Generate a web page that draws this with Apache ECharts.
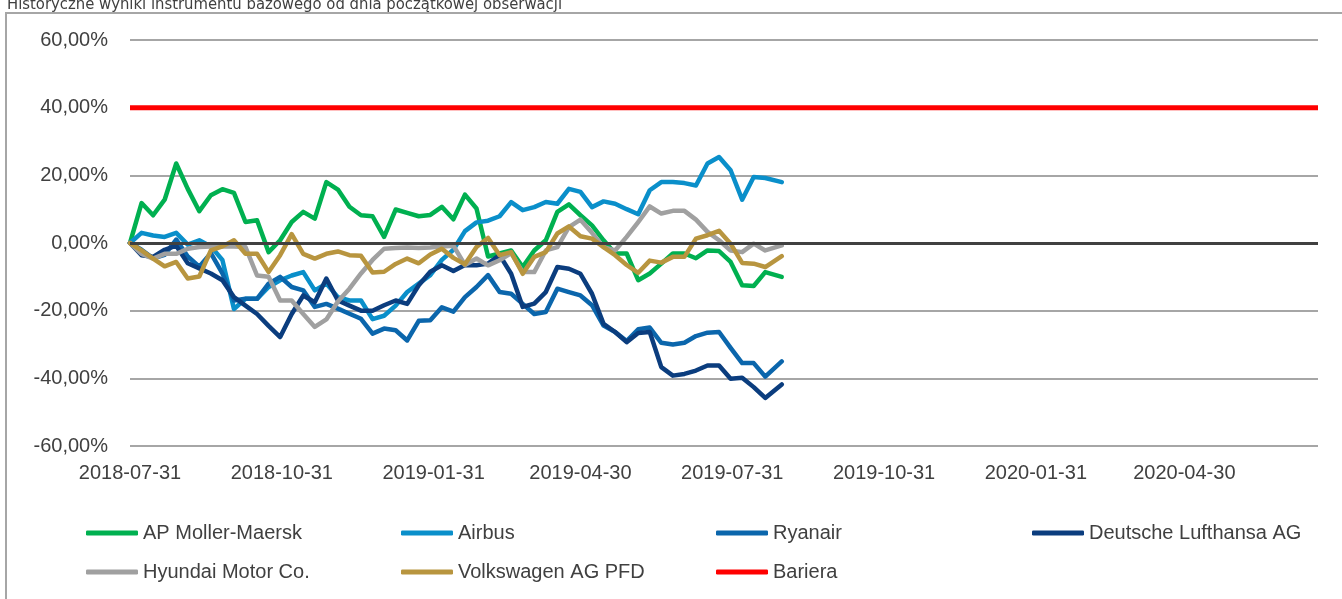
<!DOCTYPE html>
<html>
<head>
<meta charset="utf-8">
<script src="https://cdn.jsdelivr.net/npm/echarts@6/dist/echarts.min.js"></script>
<style>
  html, body { margin: 0; padding: 0; background: #fff; }
  #chart { width: 1342px; height: 599px; }
</style>
</head>
<body>
<div id="chart"></div>
<script>
// weekly observations (percent change from the initial observation)
var dates = [
  '2018-07-31', '2018-08-07', '2018-08-14', '2018-08-21', '2018-08-28', '2018-09-04', '2018-09-11', '2018-09-18',
  '2018-09-25', '2018-10-02', '2018-10-09', '2018-10-16', '2018-10-23', '2018-10-30', '2018-11-06', '2018-11-13',
  '2018-11-20', '2018-11-27', '2018-12-04', '2018-12-11', '2018-12-18', '2018-12-25', '2019-01-01', '2019-01-08',
  '2019-01-15', '2019-01-22', '2019-01-29', '2019-02-05', '2019-02-12', '2019-02-19', '2019-02-26', '2019-03-05',
  '2019-03-12', '2019-03-19', '2019-03-26', '2019-04-02', '2019-04-09', '2019-04-16', '2019-04-23', '2019-04-30',
  '2019-05-07', '2019-05-14', '2019-05-21', '2019-05-28', '2019-06-04', '2019-06-11', '2019-06-18', '2019-06-25',
  '2019-07-02', '2019-07-09', '2019-07-16', '2019-07-23', '2019-07-30', '2019-08-06', '2019-08-13', '2019-08-20',
  '2019-08-30'
];

var maersk = [0, 11.8, 8.2, 12.8, 23.5, 16, 9.4, 14.1, 15.9, 14.8, 6.2, 6.7, -2.7, 0.8, 6.2, 9.2, 7.2, 18, 15.8, 10.7,
  8.2, 7.9, 1.8, 9.9, 8.9, 7.9, 8.3, 10.7, 7.0, 14.3, 10.2, -4, -3.1, -2.2, -7.1, -2.2, 0.8, 9.2, 11.4, 8.2,
  5.2, 0.8, -3.1, -3.1, -11, -9, -6.1, -3.1, -3.1, -4.5, -2.2, -2.4, -5.6, -12.5, -12.7, -8.6, -10];

var airbus = [0, 3, 2.2, 1.8, 3, -0.5, 0.8, -1, -5, -19.5, -16.5, -16.5, -13, -11, -9.6, -8.6, -14, -12, -16, -17,
  -17, -22.5, -21.5, -18.5, -14.5, -12, -9.5, -5, -2, 3.5, 6.1, 6.6, 7.9, 12.1, 9.7, 10.6, 12.1, 11.6, 16, 15.1,
  10.6, 12.3, 11.6, 10, 8.5, 15.6, 18, 18, 17.7, 17, 23.5, 25.4, 21.5, 12.8, 19.5, 19.2, 18];

var ryanair = [0, -2, -4.5, -3.5, 1, -4, -7, -3, -9, -17, -16.5, -16.5, -12, -10, -13, -14, -18.9, -18, -19.4, -20.9,
  -22.4, -26.8, -25.3, -25.8, -28.8, -23, -22.8, -19, -20.3, -16, -13, -9.5, -14.5, -15, -18, -21, -20.4, -13.5, -14.5, -15.5,
  -18.4, -24.4, -26.3, -29, -25.5, -25, -29.5, -30, -29.5, -27.5, -26.5, -26.3, -31, -35.5, -35.5, -39.5, -35];

var lufthansa = [0, -3.6, -4.1, -2, -0.8, -6, -7.5, -9, -11, -16, -18.5, -21, -24.5, -27.8, -21, -15.5, -17.5, -10.5, -17, -18.5,
  -20, -20, -18.4, -17, -18, -12.5, -8.5, -6.6, -8.3, -6.5, -6.6, -6.1, -3.6, -9.1, -18.9, -17.9, -14.5, -7.1, -7.6, -9.1,
  -15, -23.9, -26.3, -29.3, -26.6, -26.3, -36.7, -39.2, -38.7, -37.7, -36.2, -36.2, -40.1, -39.8, -42.6, -45.8, -41.8];

var hyundai = [0, -3.2, -4.6, -3.2, -3.2, -1.7, -1.2, -1, -1, -1, -1.2, -9.6, -10, -17, -17, -21, -24.8, -22.6, -17.3, -13.5,
  -9, -5, -1.7, -1.5, -1.3, -1.5, -1.3, -1, -0.8, -6.5, -4.6, -6.6, -5.1, -3, -8.6, -8.6, -2.2, -1.2, 4.7, 6.9,
  3, -1.2, -2.2, 1.8, 6.2, 10.8, 8.7, 9.5, 9.5, 6.9, 3.3, 0.8, -2.2, -2.7, -0.2, -2.2, -0.7];

var volkswagen = [0, -2.2, -4.6, -6.9, -5.6, -10.5, -9.9, -2.2, -1, 0.8, -3.2, -3.2, -8.6, -3.6, 2.6, -3.2, -4.6, -3.2, -2.5, -3.6,
  -3.8, -8.7, -8.5, -6.2, -4.6, -6, -3.4, -1.7, -4.4, -6.3, -1.2, 1.5, -3.6, -2.7, -9.1, -4.1, -2.7, 2.8, 4.9, 2.0,
  1.3, -1.2, -3.6, -6.5, -8.8, -5.2, -5.8, -4.1, -4.1, 1.3, 2.3, 3.6, -0.2, -5.9, -6.1, -7.1, -3.9];

var bariera = 40;
var axisStart = '2018-07-31';
var axisEnd = '2020-07-20';
var tickDates = ['2018-07-31', '2018-10-31', '2019-01-31', '2019-04-30', '2019-07-31', '2019-10-31', '2020-01-31', '2020-04-30'];

var names = ['AP Moller-Maersk', 'Airbus', 'Ryanair', 'Deutsche Lufthansa AG', 'Hyundai Motor Co.', 'Volkswagen AG PFD', 'Bariera'];
var colors = ['#00b050', '#0a8fca', '#0b66ac', '#0b3d7e', '#a0a0a0', '#b8953f', '#ff0000'];
var values = [maersk, airbus, ryanair, lufthansa, hyundai, volkswagen];

var textColor = '#404040';
var axisFont = 'Liberation Sans';
var titleFont = '"DejaVu Sans Condensed", sans-serif';

function ts(d) {
  return +echarts.number.parseDate(d);
}

function pairs(arr) {
  return arr.map(function (v, i) { return [ts(dates[i]), v]; });
}

var chart = echarts.init(document.getElementById('chart'), null, { renderer: 'canvas' });

var series = values.map(function (arr, i) {
  return {
    name: names[i],
    type: 'line',
    data: pairs(arr),
    symbol: 'none',
    smooth: false,
    lineStyle: { color: colors[i], width: 4.5, cap: 'round', join: 'round' },
    itemStyle: { color: colors[i] },
    emphasis: { disabled: true }
  };
});

series.push({
  name: names[6],
  type: 'line',
  data: [[ts(axisStart), bariera], [ts(axisEnd), bariera]],
  symbol: 'none',
  lineStyle: { color: colors[6], width: 5 },
  itemStyle: { color: colors[6] },
  emphasis: { disabled: true },
  z: 1,
  markLine: {
    silent: true,
    symbol: 'none',
    label: { show: false },
    lineStyle: { color: '#404040', width: 3, type: 'solid' },
    data: [{ yAxis: 0 }]
  }
});

// legend laid out like the original: 4 equal columns, 2 rows
var legendPos = [
  [86, 523], [401, 523], [716, 523], [1032, 523],
  [86, 562], [401, 562], [716, 562]
];
var legends = names.map(function (n, i) {
  return {
    data: [n],
    left: legendPos[i][0],
    top: legendPos[i][1],
    padding: 0,
    icon: 'roundRect',
    itemWidth: 52,
    itemHeight: 5,
    selectedMode: false,
    textStyle: { color: textColor, fontSize: 20, fontFamily: axisFont }
  };
});

chart.setOption({
  animation: false,
  backgroundColor: '#fff',
  title: {
    text: 'Historyczne wyniki instrumentu bazowego od dnia początkowej obserwacji',
    left: 2,
    top: -9,
    textStyle: { color: textColor, fontSize: 16.5, fontWeight: 'normal', fontFamily: titleFont }
  },
  graphic: [{
    type: 'rect',
    shape: { x: 6, y: 13, width: 1400, height: 700 },
    style: { fill: 'none', stroke: '#a6a6a6', lineWidth: 2 },
    silent: true
  }],
  legend: legends,
  grid: { left: 130, right: 24, top: 40, bottom: 153, containLabel: false },
  xAxis: {
    type: 'value',
    min: ts(axisStart),
    max: ts(axisEnd),
    axisLine: { show: false },
    axisTick: { show: false },
    splitLine: { show: false },
    axisLabel: {
      customValues: tickDates.map(ts),
      formatter: function (v) { return echarts.time.format(v, '{yyyy}-{MM}-{dd}', false); },
      color: textColor,
      fontSize: 20,
      fontFamily: axisFont,
      margin: 17,
      hideOverlap: false
    }
  },
  yAxis: {
    type: 'value',
    min: -60,
    max: 60,
    interval: 20,
    axisLine: { show: false },
    axisTick: { show: false },
    splitLine: { lineStyle: { color: '#a6a6a6', width: 2 } },
    axisLabel: {
      formatter: function (v) { return v.toFixed(2).replace('.', ',') + '%'; },
      color: textColor,
      fontSize: 20,
      fontFamily: axisFont,
      margin: 22
    }
  },
  series: series
});
</script>
</body>
</html>
